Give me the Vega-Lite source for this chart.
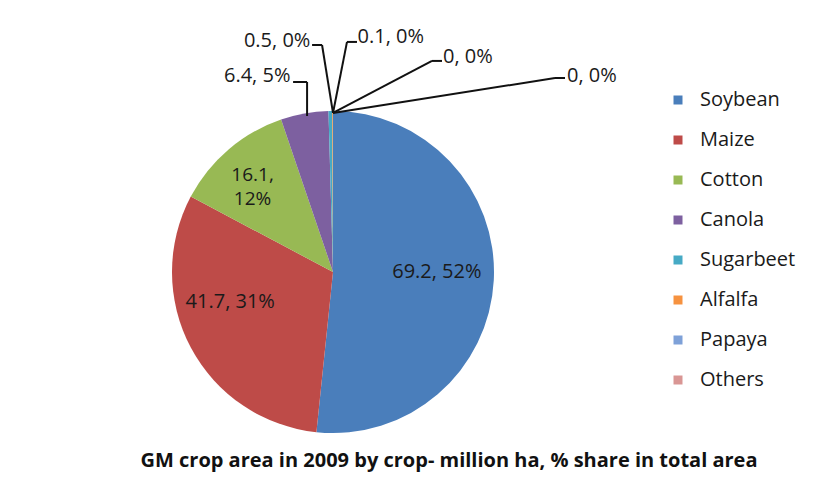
{
  "$schema": "https://vega.github.io/schema/vega-lite/v6.json",
  "width": 322,
  "height": 322,
  "autosize": {"type": "none"},
  "padding": {"left": 172, "top": 111, "right": 330, "bottom": 52},
  "background": "white",
  "config": {"view": {"stroke": null}, "font": "Open Sans", "text": {"font": "Open Sans", "fontSize": 20, "color": "#1a1a1a"}},
  "title": {
    "text": "GM crop area in 2009 by crop- million ha, % share in total area",
    "orient": "bottom", "anchor": "middle", "frame": "group", "dx": 116, "offset": 18,
    "fontSize": 20, "fontWeight": "bold", "color": "#111111", "font": "Open Sans"
  },
  "datasets": {
    "crops": [
      {"crop": "Soybean", "area": 69.2, "share": 52, "label": "69.2, 52%"},
      {"crop": "Maize", "area": 41.7, "share": 31, "label": "41.7, 31%"},
      {"crop": "Cotton", "area": 16.1, "share": 12, "label": "16.1,\n12%"},
      {"crop": "Canola", "area": 6.4, "share": 5, "label": "6.4, 5%"},
      {"crop": "Sugarbeet", "area": 0.5, "share": 0, "label": "0.5, 0%"},
      {"crop": "Alfalfa", "area": 0.1, "share": 0, "label": "0.1, 0%"},
      {"crop": "Papaya", "area": 0, "share": 0, "label": "0, 0%"},
      {"crop": "Others", "area": 0, "share": 0, "label": "0, 0%"}
    ],
    "leaders": [
      {"crop": "Canola", "x": -0.161, "y": 0.969, "x2": -0.161, "y2": 1.18},
      {"crop": "Canola", "x": -0.161, "y": 1.18, "x2": -0.248, "y2": 1.18},
      {"crop": "Sugarbeet", "x": 0, "y": 0.988, "x2": -0.068, "y2": 1.41},
      {"crop": "Sugarbeet", "x": -0.068, "y": 1.41, "x2": -0.13, "y2": 1.41},
      {"crop": "Alfalfa", "x": 0, "y": 0.988, "x2": 0.087, "y2": 1.429},
      {"crop": "Alfalfa", "x": 0.087, "y": 1.429, "x2": 0.149, "y2": 1.429},
      {"crop": "Papaya", "x": 0, "y": 0.988, "x2": 0.615, "y2": 1.311},
      {"crop": "Papaya", "x": 0.615, "y": 1.311, "x2": 0.677, "y2": 1.311},
      {"crop": "Others", "x": 0, "y": 0.988, "x2": 1.379, "y2": 1.205},
      {"crop": "Others", "x": 1.379, "y": 1.205, "x2": 1.441, "y2": 1.205}
    ]
  },
  "layer": [
    {
      "data": {"name": "crops"},
      "transform": [{"window": [{"op": "row_number", "as": "seq"}]}],
      "mark": {"type": "arc", "radius": 161},
      "encoding": {
        "theta": {"field": "area", "type": "quantitative", "stack": true},
        "order": {"field": "seq", "type": "quantitative"},
        "color": {
          "field": "crop", "type": "nominal",
          "scale": {
            "domain": ["Soybean", "Maize", "Cotton", "Canola", "Sugarbeet", "Alfalfa", "Papaya", "Others"],
            "range": ["#4a7ebb", "#be4b48", "#98b954", "#7d60a0", "#46aac5", "#f69240", "#7ea1d8", "#d99694"]
          },
          "legend": {
            "orient": "none", "legendX": 496, "legendY": -21, "title": null, "padding": 0,
            "symbolType": "square", "symbolSize": 81, "symbolStrokeWidth": 0,
            "labelFontSize": 20, "labelFont": "Open Sans", "labelColor": "#1a1a1a",
            "rowPadding": 20, "labelOffset": 12
          }
        }
      }
    },
    {
      "data": {"name": "leaders"},
      "mark": {"type": "rule", "color": "#111111", "strokeWidth": 2},
      "encoding": {
        "x": {"field": "x", "type": "quantitative", "scale": {"domain": [-1, 1], "nice": false, "zero": false}, "axis": null},
        "y": {"field": "y", "type": "quantitative", "scale": {"domain": [-1, 1], "nice": false, "zero": false}, "axis": null},
        "x2": {"field": "x2"},
        "y2": {"field": "y2"}
      }
    },
    {
      "data": {"name": "crops"},
      "transform": [{"window": [{"op": "row_number", "as": "seq"}]}],
      "mark": {"type": "text", "radius": 104, "dy": -5, "align": "center", "baseline": "middle"},
      "encoding": {
        "theta": {"field": "area", "type": "quantitative", "stack": true},
        "order": {"field": "seq", "type": "quantitative"},
        "text": {"condition": {"test": "datum.crop === 'Soybean'", "field": "label"}, "value": ""}
      }
    },
    {
      "data": {"name": "crops"},
      "transform": [{"window": [{"op": "row_number", "as": "seq"}]}],
      "mark": {"type": "text", "radius": 104, "dx": -11, "dy": -19, "align": "center", "baseline": "middle"},
      "encoding": {
        "theta": {"field": "area", "type": "quantitative", "stack": true},
        "order": {"field": "seq", "type": "quantitative"},
        "text": {"condition": {"test": "datum.crop === 'Maize'", "field": "label"}, "value": ""}
      }
    },
    {
      "data": {"name": "crops"},
      "transform": [{"window": [{"op": "row_number", "as": "seq"}]}],
      "mark": {"type": "text", "radius": 104, "dx": -13, "dy": -18, "align": "center", "baseline": "middle", "lineBreak": "\n", "lineHeight": 24, "fontSize": 19},
      "encoding": {
        "theta": {"field": "area", "type": "quantitative", "stack": true},
        "order": {"field": "seq", "type": "quantitative"},
        "text": {"condition": {"test": "datum.crop === 'Cotton'", "field": "label"}, "value": ""}
      }
    },
    {
      "data": {"name": "crops"},
      "transform": [{"window": [{"op": "row_number", "as": "seq"}]}],
      "mark": {"type": "text", "radius": 161, "dx": -14, "dy": -38, "align": "right", "baseline": "middle"},
      "encoding": {
        "theta": {"field": "area", "type": "quantitative", "stack": true},
        "order": {"field": "seq", "type": "quantitative"},
        "text": {"condition": {"test": "datum.crop === 'Canola'", "field": "label"}, "value": ""}
      }
    },
    {
      "data": {"name": "crops"},
      "transform": [{"window": [{"op": "row_number", "as": "seq"}]}],
      "mark": {"type": "text", "radius": 161, "dx": -20, "dy": -70, "align": "right", "baseline": "middle"},
      "encoding": {
        "theta": {"field": "area", "type": "quantitative", "stack": true},
        "order": {"field": "seq", "type": "quantitative"},
        "text": {"condition": {"test": "datum.crop === 'Sugarbeet'", "field": "label"}, "value": ""}
      }
    },
    {
      "data": {"name": "crops"},
      "transform": [{"window": [{"op": "row_number", "as": "seq"}]}],
      "mark": {"type": "text", "radius": 161, "dx": 25, "dy": -74, "align": "left", "baseline": "middle"},
      "encoding": {
        "theta": {"field": "area", "type": "quantitative", "stack": true},
        "order": {"field": "seq", "type": "quantitative"},
        "text": {"condition": {"test": "datum.crop === 'Alfalfa'", "field": "label"}, "value": ""}
      }
    },
    {
      "data": {"name": "crops"},
      "transform": [{"window": [{"op": "row_number", "as": "seq"}]}],
      "mark": {"type": "text", "radius": 161, "dx": 110, "dy": -54, "align": "left", "baseline": "middle"},
      "encoding": {
        "theta": {"field": "area", "type": "quantitative", "stack": true},
        "order": {"field": "seq", "type": "quantitative"},
        "text": {"condition": {"test": "datum.crop === 'Papaya'", "field": "label"}, "value": ""}
      }
    },
    {
      "data": {"name": "crops"},
      "transform": [{"window": [{"op": "row_number", "as": "seq"}]}],
      "mark": {"type": "text", "radius": 161, "dx": 234, "dy": -35, "align": "left", "baseline": "middle"},
      "encoding": {
        "theta": {"field": "area", "type": "quantitative", "stack": true},
        "order": {"field": "seq", "type": "quantitative"},
        "text": {"condition": {"test": "datum.crop === 'Others'", "field": "label"}, "value": ""}
      }
    }
  ]
}
